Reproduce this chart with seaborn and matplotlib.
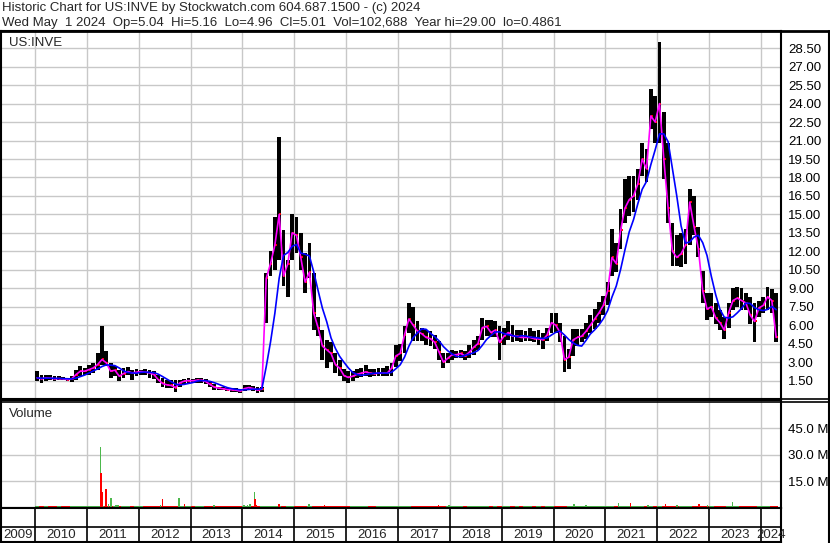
import numpy as np
import pandas as pd
import seaborn as sns
import matplotlib.pyplot as plt
from matplotlib.lines import Line2D

# monthly price bars, Jan 2010 .. Apr 2024 (one row per year)
high = [
    2.26, 1.99, 1.91, 1.93, 1.85, 1.85, 1.77, 1.72, 1.85, 2.39, 2.66, 2.53,
    2.80, 2.94, 3.75, 5.91, 3.88, 2.94, 2.66, 2.39, 2.53, 2.61, 2.39, 2.45,
    2.39, 2.45, 2.39, 2.26, 1.99, 1.72, 1.58, 1.53, 1.53, 1.58, 1.64, 1.72,
    1.64, 1.72, 1.72, 1.64, 1.45, 1.18, 0.99, 0.99, 0.93, 0.88, 0.88, 0.83,
    1.10, 1.15, 1.04, 0.99, 0.95, 10.2, 12.0, 14.8, 21.3, 13.7, 11.3, 15.0,
    14.8, 13.5, 11.9, 12.7, 10.2, 6.7, 5.6, 4.8, 4.6, 3.75, 3.2, 2.4,
    2.3, 2.3, 2.4, 2.5, 2.8, 2.45, 2.4, 2.5, 2.5, 2.67, 2.9, 4.4,
    4.5, 5.9, 7.8, 7.5, 6.3, 5.8, 5.6, 5.5, 5.2, 4.7, 3.7, 3.7,
    4.0, 3.9, 4.0, 3.9, 4.4, 4.8, 5.1, 6.6, 6.45, 6.45, 6.3, 5.9,
    5.8, 6.3, 6.0, 5.6, 5.6, 5.5, 5.8, 5.5, 5.6, 5.4, 5.8, 7.0,
    7.0, 6.2, 5.15, 4.1, 5.7, 5.7, 5.7, 6.2, 6.8, 7.3, 7.9, 8.4,
    9.5, 13.8, 12.7, 15.4, 17.9, 18.1, 18.1, 18.7, 20.8, 20.3, 25.2, 24.6,
    29.0, 23.3, 20.8, 14.3, 13.3, 13.5, 13.8, 17.1, 16.5, 14.0, 10.4, 8.6,
    8.6, 7.8, 7.2, 6.7, 7.8, 9.0, 9.1, 9.0, 8.6, 8.3, 7.8, 8.0,
    8.3, 9.1, 8.9, 8.6,
]
low = [
    1.45, 1.26, 1.45, 1.53, 1.45, 1.53, 1.53, 1.45, 1.37, 1.58, 1.85, 1.99,
    1.99, 2.12, 2.39, 2.80, 2.66, 1.72, 1.85, 1.45, 1.72, 1.99, 1.58, 1.85,
    1.99, 1.91, 1.72, 1.64, 1.26, 0.99, 0.91, 0.91, 0.56, 0.99, 1.18, 1.26,
    1.26, 1.31, 1.31, 1.18, 0.99, 0.77, 0.72, 0.72, 0.64, 0.58, 0.56, 0.49,
    0.64, 0.72, 0.66, 0.50, 0.60, 6.2, 10.0, 10.5, 11.3, 9.2, 8.3, 11.3,
    11.9, 10.5, 8.6, 9.8, 5.6, 5.1, 3.2, 2.5, 3.0, 2.1, 1.9, 1.45,
    1.3, 1.45, 1.72, 1.8, 1.85, 1.8, 1.85, 1.9, 1.85, 1.9, 1.9, 2.6,
    3.1, 3.7, 5.4, 4.7, 4.7, 4.7, 4.4, 4.3, 4.1, 3.2, 2.5, 2.9,
    3.2, 3.3, 3.3, 3.2, 3.3, 3.6, 4.0, 4.8, 5.1, 5.0, 5.0, 3.2,
    4.4, 4.8, 4.6, 4.7, 4.6, 4.7, 4.7, 4.6, 4.4, 4.1, 4.7, 5.4,
    5.4, 4.6, 2.2, 2.45, 3.5, 4.3, 4.6, 4.9, 5.4, 5.7, 6.2, 6.8,
    7.6, 10.0, 10.3, 12.2, 14.3, 14.9, 15.2, 16.2, 18.1, 17.6, 21.9, 20.8,
    20.8, 17.9, 14.3, 10.8, 10.8, 10.7, 11.0, 12.5, 13.3, 11.5, 7.8, 6.4,
    6.7, 6.1, 5.6, 4.9, 5.8, 7.2, 7.5, 7.2, 7.2, 6.1, 4.6, 6.7,
    7.0, 7.2, 7.0, 4.6,
]
close = [
    1.72, 1.64, 1.72, 1.69, 1.64, 1.66, 1.64, 1.58, 1.64, 1.99, 2.26, 2.26,
    2.39, 2.53, 2.80, 3.21, 2.94, 2.26, 2.34, 1.85, 2.07, 2.23, 2.12, 2.18,
    2.23, 2.18, 2.12, 1.99, 1.58, 1.26, 1.15, 1.10, 0.93, 1.31, 1.45, 1.50,
    1.48, 1.53, 1.53, 1.42, 1.18, 0.96, 0.88, 0.83, 0.77, 0.75, 0.72, 0.64,
    0.85, 0.93, 0.85, 0.72, 0.80, 9.8, 11.0, 12.5, 15.0, 10.0, 11.0, 13.5,
    13.3, 11.5, 9.5, 10.3, 7.0, 5.8, 4.3, 4.0, 3.7, 2.8, 2.5, 1.9,
    1.75, 1.85, 2.0, 2.1, 2.2, 2.1, 2.05, 2.1, 2.1, 2.1, 2.5, 3.5,
    3.7, 5.2, 6.5, 6.0, 5.5, 5.3, 5.0, 4.9, 4.6, 3.8, 3.0, 3.3,
    3.6, 3.6, 3.7, 3.5, 3.8, 4.2, 4.5, 5.8, 5.9, 5.4, 5.6, 4.6,
    5.1, 5.4, 5.1, 5.1, 5.0, 5.0, 5.0, 4.9, 4.9, 4.8, 5.2, 6.2,
    6.0, 5.4, 3.2, 3.4, 4.8, 5.0, 5.1, 5.5, 6.0, 6.5, 7.0, 7.6,
    8.8, 11.5, 11.0, 13.7, 15.5, 16.2, 16.5, 17.5, 19.5, 18.7, 23.0, 22.5,
    24.0, 19.5, 15.5, 12.0, 11.5, 11.8, 12.5, 16.0, 14.0, 12.2, 8.8, 7.3,
    7.5, 6.6, 6.2, 5.6, 7.0, 8.0, 8.2, 8.0, 7.8, 6.8, 6.3, 7.4,
    7.6, 8.3, 8.0, 5.0,
]

# typical daily volume per year (millions) and the visible volume spikes
base_volume = [1.3, 1.4, 1.3, 1.3, 1.4, 1.3, 1.2, 1.3, 1.2, 1.2, 1.3, 1.4, 1.3, 1.3, 1.2]
spike_dates = [2011.26, 2011.27, 2011.29, 2011.28, 2011.37, 2011.42, 2011.46, 2011.56, 2011.60,
               2012.42, 2012.46, 2012.78, 2012.88, 2013.45, 2014.03, 2014.10, 2014.14,
               2014.23, 2014.24, 2014.26, 2014.70, 2015.28, 2015.58, 2017.78, 2017.98,
               2020.39, 2020.63, 2021.25, 2021.48, 2021.82, 2022.16, 2022.38, 2022.81,
               2022.97, 2023.45]
spike_volume = [34.7, 19.6, 9.2, 5.1, 10.7, 2.0, 5.8, 1.8, 1.8,
                1.8, 5.1, 5.8, 2.2, 1.8, 1.7, 1.8, 2.1,
                9.2, 5.1, 1.9, 2.4, 2.1, 1.7, 1.7, 1.7,
                2.2, 1.8, 2.7, 2.9, 1.7, 2.2, 1.7, 2.0,
                1.7, 3.2]
spike_up = [1, 0, 0, 1, 0, 1, 1, 1, 1,
            1, 0, 1, 0, 1, 1, 1, 1,
            1, 0, 0, 0, 1, 0, 0, 1,
            1, 1, 1, 0, 1, 0, 1, 0,
            1, 1]

price_ticks = [1.5, 3.0, 4.5, 6.0, 7.5, 9.0, 10.5, 12.0, 13.5, 15.0, 16.5, 18.0,
               19.5, 21.0, 22.5, 24.0, 25.5, 27.0, 28.5]
volume_ticks = [15, 30, 45]
year_labels = list(range(2009, 2025))

header1 = "Historic Chart for US:INVE by Stockwatch.com 604.687.1500 - (c) 2024"
header2 = ("Wed May  1 2024  Op=5.04  Hi=5.16  Lo=4.96  Cl=5.01  Vol=102,688  "
           "Year hi=29.00  lo=0.4861")

sns.set_style("white")
plt.rcParams['font.family'] = ['Liberation Sans', 'DejaVu Sans']

GREEN = '#4cb84c'
RED = '#ff0000'
GRID = '#c8c8c8'

months = 2010 + (np.arange(len(close)) + 0.5) / 12
df = pd.DataFrame({'date': months, 'high': high, 'low': low, 'close': close})
df['ma_slow'] = df['close'].rolling(5, min_periods=1).mean()
df['up'] = df['close'].diff().fillna(0) >= 0
df['base'] = [base_volume[int(d) - 2010] for d in df['date']]

W, H = 830, 543
fig = plt.figure(figsize=(W / 100, H / 100), dpi=100)


def box(l, t, r, b):
    return [l / W, 1 - b / H, (r - l) / W, (b - t) / H]


x0 = 2010 - 34 / 51.86
x1 = 2010 + 746 / 51.86

ax_p = fig.add_axes(box(1, 31, 781, 399))
ax_v = fig.add_axes(box(1, 400, 781, 508))
ax_d = fig.add_axes(box(1, 508, 781, 542))

# price panel
ax_p.bar(df['date'], df['high'] - df['low'], bottom=df['low'], width=0.88 / 12,
         color='black', linewidth=0, zorder=2)
ax_p.hlines(df['close'], df['date'], df['date'] + 0.45 / 12, color=RED, lw=1.4, zorder=3)
sns.lineplot(data=df, x='date', y='close', ax=ax_p, color='#ff00ff', lw=1.2, zorder=4)
sns.lineplot(data=df, x='date', y='ma_slow', ax=ax_p, color='#0000ff', lw=1.2, zorder=5)
ax_p.set_ylim(0, 29.9)
ax_p.set_yticks(price_ticks)
ax_p.set_yticklabels([f"{t:.2f}" for t in price_ticks])

# volume panel
ax_v.bar(df['date'], df['base'], width=1 / 12, linewidth=0,
         color=[GREEN if u else RED for u in df['up']], zorder=2)
spk = pd.DataFrame({'date': spike_dates, 'vol': spike_volume, 'up': spike_up})
for up_flag, col in [(1, GREEN), (0, RED)]:
    part = spk[spk['up'] == up_flag]
    ax_v.bar(part['date'], part['vol'], width=0.032, color=col, linewidth=0, zorder=3)
ax_v.set_ylim(0, 61)
ax_v.set_yticks(volume_ticks)
ax_v.set_yticklabels([f"{t:.1f} M" for t in volume_ticks])

for ax in (ax_p, ax_v):
    ax.set_xlim(x0, x1)
    ax.set_xticks(range(2010, 2025))
    ax.grid(True, color=GRID, lw=1.0, zorder=0)
    ax.set_axisbelow(True)
    ax.yaxis.tick_right()
    ax.tick_params(axis='y', length=0, pad=5, labelsize=9.5, labelcolor='black')
    ax.tick_params(axis='x', length=0, labelbottom=False)
    ax.set_xlabel('')
    ax.set_ylabel('')
    for s in ax.spines.values():
        s.set_color('black')
        s.set_linewidth(1.5)

# date strip
ax_d.set_xlim(x0, x1)
ax_d.set_ylim(0, 1)
ax_d.set_xticks([])
ax_d.set_yticks([])
ax_d.vlines(range(2010, 2025), 0, 1, color='black', lw=1.2)
ax_d.axhline(0.44, color='black', lw=1.2)
for yr in year_labels:
    c = (max(yr, x0) + min(yr + 1, x1)) / 2
    ax_d.text(c, 0.2, str(yr), ha='center', va='center', fontsize=9.5)
for s in ax_d.spines.values():
    s.set_color('black')
    s.set_linewidth(1.5)

# header and panel captions
fig.text(2 / W, 1 - 8.5 / H, header1, va='center', fontsize=9.5)
fig.text(2 / W, 1 - 23 / H, header2, va='center', fontsize=9.5)
ax_p.text(8 / 780, 0.985, "US:INVE", transform=ax_p.transAxes, va='top', fontsize=9.5)
ax_v.text(8 / 780, 0.93, "Volume", transform=ax_v.transAxes, va='top', fontsize=9.5)

# frame lines across the full width
fig.add_artist(Line2D([0, 1], [1 - 31 / H] * 2, color='black', lw=2))
fig.add_artist(Line2D([0, 1], [1 - 398.5 / H] * 2, color='black', lw=1.2))
fig.add_artist(Line2D([0, 1], [1 - 401.5 / H] * 2, color='black', lw=1.2))
fig.add_artist(Line2D([828.5 / W] * 2, [0, 1 - 31 / H], color='black', lw=1.5))

fig.savefig("out.png", dpi=100)
